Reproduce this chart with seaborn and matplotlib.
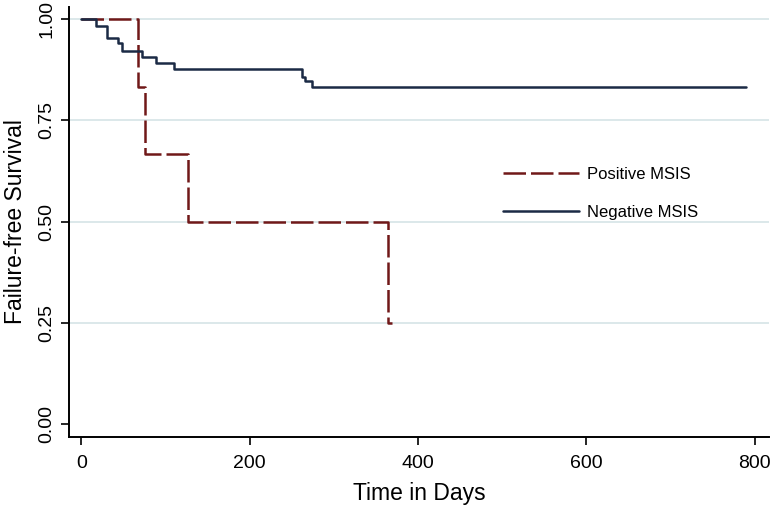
import numpy as np
import pandas as pd
import matplotlib
matplotlib.use("Agg")
import matplotlib.pyplot as plt
import seaborn as sns

# Kaplan-Meier step values
pos_time = [0, 68, 76, 127, 365, 369]
pos_surv = [1.0, 0.833, 0.667, 0.5, 0.25, 0.25]

neg_time = [0, 18, 30, 44, 48, 72, 89, 110, 262, 266, 274, 790]
neg_surv = [1.0, 0.983, 0.953, 0.94, 0.922, 0.907, 0.893, 0.877, 0.858, 0.848, 0.832, 0.832]

groups = ["Positive MSIS", "Negative MSIS"]
x_ticks = [0, 200, 400, 600, 800]
y_ticks = [0.0, 0.25, 0.5, 0.75, 1.0]

df = pd.concat([
    pd.DataFrame({"time": pos_time, "surv": pos_surv, "group": groups[0]}),
    pd.DataFrame({"time": neg_time, "surv": neg_surv, "group": groups[1]}),
], ignore_index=True)

sns.set_style("white")
plt.rcParams["font.family"] = ["Liberation Sans", "DejaVu Sans"]
plt.rcParams["text.color"] = "black"
plt.rcParams["axes.labelcolor"] = "black"
plt.rcParams["xtick.color"] = "black"
plt.rcParams["ytick.color"] = "black"

fig = plt.figure(figsize=(7.74, 5.05), dpi=100)
ax = fig.add_axes([0.0891, 0.1352, 0.9044, 0.8509])

sns.lineplot(data=df, x="time", y="surv", hue="group", style="group",
             palette={groups[0]: "#701818", groups[1]: "#1b2a45"},
             dashes={groups[0]: (9, 2), groups[1]: ""},
             drawstyle="steps-post", linewidth=1.8, estimator=None,
             sort=False, ax=ax)

ax.set_xlim(-14.6, 817)
ax.set_ylim(-0.031, 1.03)
ax.set_xticks(x_ticks)
ax.set_yticks(y_ticks)
ax.set_yticklabels([f"{v:.2f}" for v in y_ticks], rotation=90, va="center")
ax.tick_params(axis="both", labelsize=14, length=6, width=1.2, direction="out",
               left=True, bottom=True)
ax.tick_params(axis="y", pad=4)
ax.tick_params(axis="x", pad=7)

ax.yaxis.grid(True, color="#d6e4e6", linewidth=1.2)
ax.get_ygridlines()[0].set_visible(False)
ax.set_axisbelow(True)

for s in ["top", "right"]:
    ax.spines[s].set_visible(False)
for s in ["left", "bottom"]:
    ax.spines[s].set_color("black")
    ax.spines[s].set_linewidth(1.4)

ax.set_xlabel("Time in Days", fontsize=16.5, labelpad=7.5)
ax.set_ylabel("Failure-free Survival", fontsize=16.5, labelpad=8)

leg = ax.legend(loc="upper left", bbox_to_anchor=(0.6196, 0.628), frameon=False,
                fontsize=12, handlelength=4.6, handletextpad=0.46,
                labelspacing=1.4, borderpad=0, borderaxespad=0)

fig.savefig("out.png", dpi=100)
